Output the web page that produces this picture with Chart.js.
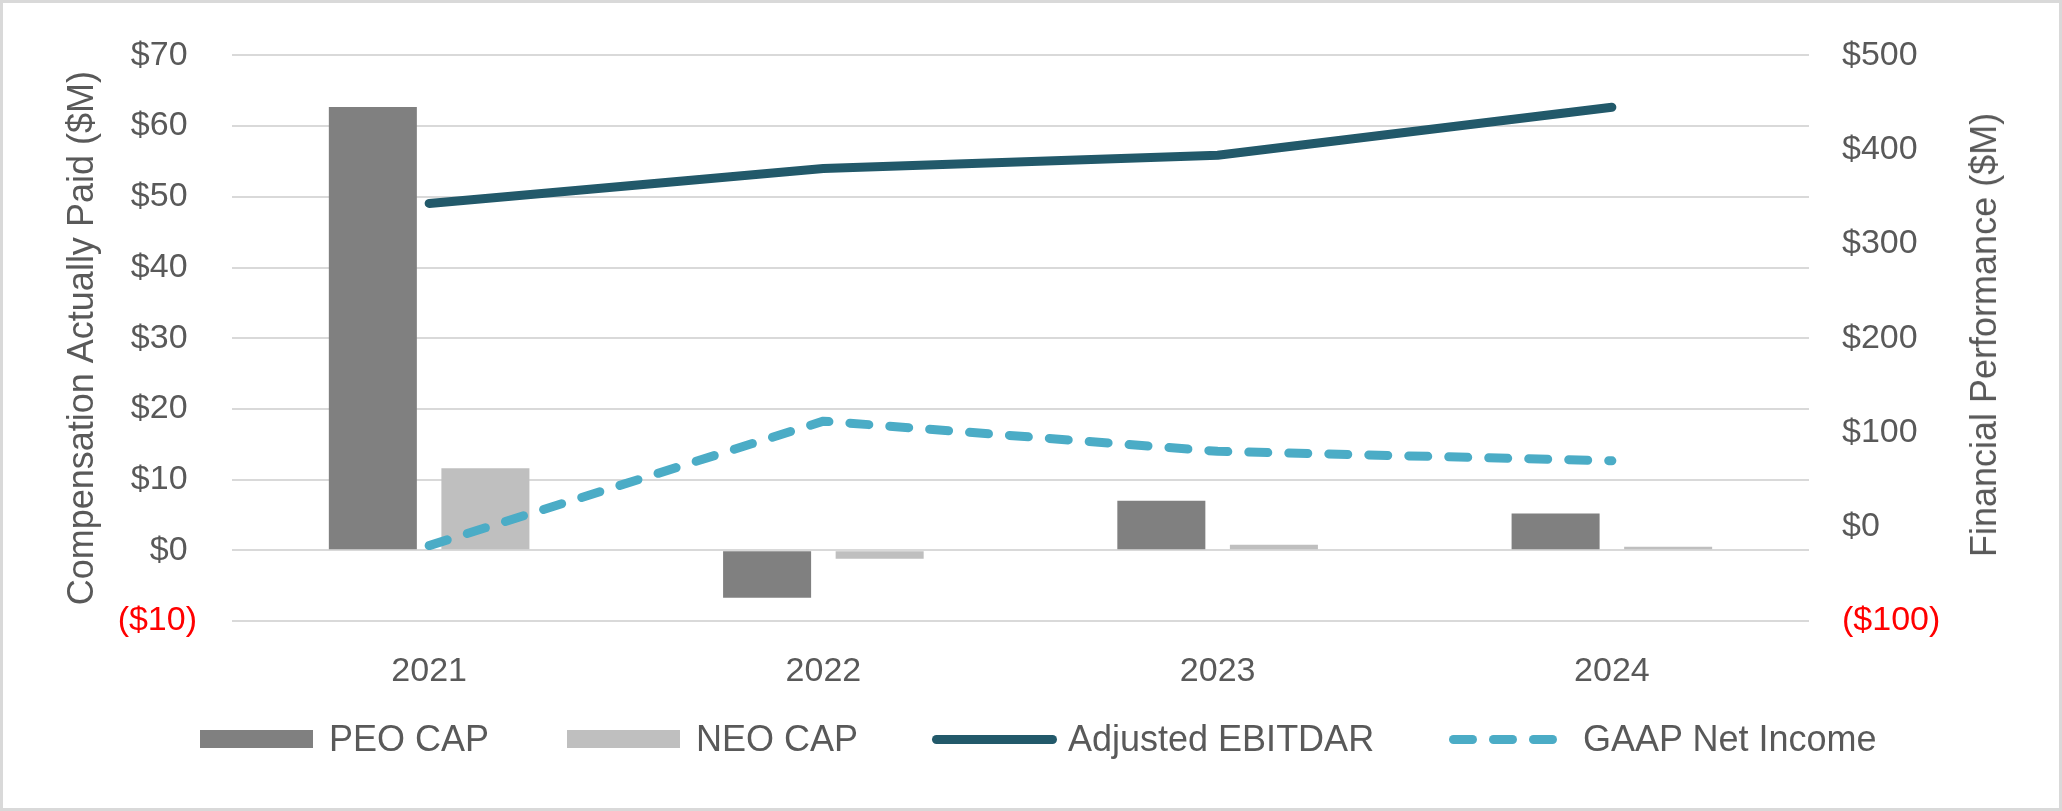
<!DOCTYPE html>
<html>
<head>
<meta charset="utf-8">
<script src="https://cdn.jsdelivr.net/npm/chart.js@4.4.1/dist/chart.umd.min.js"></script>
<style>
  html, body { margin: 0; padding: 0; background: #fff; }
  #wrap { position: relative; width: 2062px; height: 811px; font-family: "Liberation Sans", Arial, sans-serif; color: #595959; }
  #c { position: absolute; left: 0; top: 0; }
  #frame { position: absolute; left: 0; top: 0; width: 2062px; height: 811px; box-sizing: border-box; border: 3px solid #d9d9d9; pointer-events: none; }
  .rtitle { position: absolute; left: 1984px; top: 335px; transform: translate(-50%, -50%) rotate(-90deg); font-size: 36px; white-space: nowrap; }
  .leg { position: absolute; top: 739px; transform: translateY(-50%); display: flex; align-items: center; font-size: 36px; line-height: 36px; white-space: nowrap; }
  .sw-box { width: 113px; height: 18px; margin-right: 16px; }
  .sw-line { width: 125px; height: 9px; border-radius: 4.5px; margin-right: 11px; }
  .sw-dash { display: flex; gap: 12px; margin-right: 26px; }
  .sw-dash span { width: 28px; height: 9px; border-radius: 4.5px; }
</style>
</head>
<body>
<div id="wrap">
  <canvas id="c" width="2062" height="811"></canvas>
  <div class="rtitle">Financial Performance ($M)</div>
  <div class="leg" style="left:200px"><div class="sw-box" style="background:#808080"></div>PEO CAP</div>
  <div class="leg" style="left:567px"><div class="sw-box" style="background:#bfbfbf"></div>NEO CAP</div>
  <div class="leg" style="left:932px"><div class="sw-line" style="background:#22596a"></div>Adjusted EBITDAR</div>
  <div class="leg" style="left:1449px"><div class="sw-dash"><span style="background:#4bacc6"></span><span style="background:#4bacc6"></span><span style="background:#4bacc6"></span></div>GAAP Net Income</div>
  <div id="frame"></div>
</div>
<script>
// values ($M)
const years = ['2021', '2022', '2023', '2024'];
const peoCap = [62.7, -6.7, 7.0, 5.2];
const neoCap = [11.6, -1.2, 0.8, 0.5];
const adjEbitdar = [343, 380, 394, 445];
const gaapNetIncome = [-20, 112, 80, 70];

const GREY_TEXT = '#595959';
const fontFamily = '"Liberation Sans", Arial, sans-serif';

// excel style $ format: negatives in parens, positives padded
const money = v => v < 0 ? '($' + (-v) + ')' : '$' + v + ' ';
const tickColor = ctx => ctx.tick.value < 0 ? '#ff0000' : GREY_TEXT;

new Chart(document.getElementById('c'), {
    type: 'bar',
    data: {
        labels: years,
        datasets: [
            {
                type: 'line', label: 'Adjusted EBITDAR', data: adjEbitdar, yAxisID: 'y1',
                borderColor: '#22596a', borderWidth: 9, borderCapStyle: 'round', borderJoinStyle: 'round',
                pointRadius: 0, tension: 0, order: 1
            },
            {
                type: 'line', label: 'GAAP Net Income', data: gaapNetIncome, yAxisID: 'y1',
                borderColor: '#4bacc6', borderWidth: 9, borderDash: [19, 21], borderCapStyle: 'round', borderJoinStyle: 'round',
                pointRadius: 0, tension: 0, order: 1
            },
            {
                label: 'PEO CAP', data: peoCap, backgroundColor: '#808080', yAxisID: 'y',
                barPercentage: 0.782, categoryPercentage: 0.571, order: 2
            },
            {
                label: 'NEO CAP', data: neoCap, backgroundColor: '#bfbfbf', yAxisID: 'y',
                barPercentage: 0.782, categoryPercentage: 0.571, order: 2
            }
        ]
    },
    options: {
        responsive: false,
        animation: false,
        devicePixelRatio: 1,
        layout: { padding: { top: 51, left: 0, right: 0, bottom: 0 } },
        plugins: { legend: { display: false }, tooltip: { enabled: false } },
        scales: {
            x: {
                grid: { display: false },
                border: { display: false },
                ticks: { color: GREY_TEXT, font: { family: fontFamily, size: 34 }, padding: 22 },
                afterFit(s) { s.height = 190; }
            },
            y: {
                position: 'left', min: -10, max: 70,
                ticks: { stepSize: 10, callback: money, color: tickColor, font: { family: fontFamily, size: 34 }, padding: 35 },
                grid: { color: '#d9d9d9', lineWidth: 2, drawTicks: false },
                border: { display: false },
                title: {
                    display: true, text: 'Compensation Actually Paid ($M)', color: GREY_TEXT,
                    font: { family: fontFamily, size: 36 }, padding: { top: 61, bottom: 0 }
                },
                afterFit(s) { s.width = 232; }
            },
            y1: {
                position: 'right', min: -100, max: 500,
                ticks: { stepSize: 100, callback: money, color: tickColor, font: { family: fontFamily, size: 34 }, padding: 33 },
                grid: { display: false, drawTicks: false },
                border: { display: false },
                afterFit(s) { s.width = 253; }
            }
        }
    }
});
</script>
</body>
</html>
